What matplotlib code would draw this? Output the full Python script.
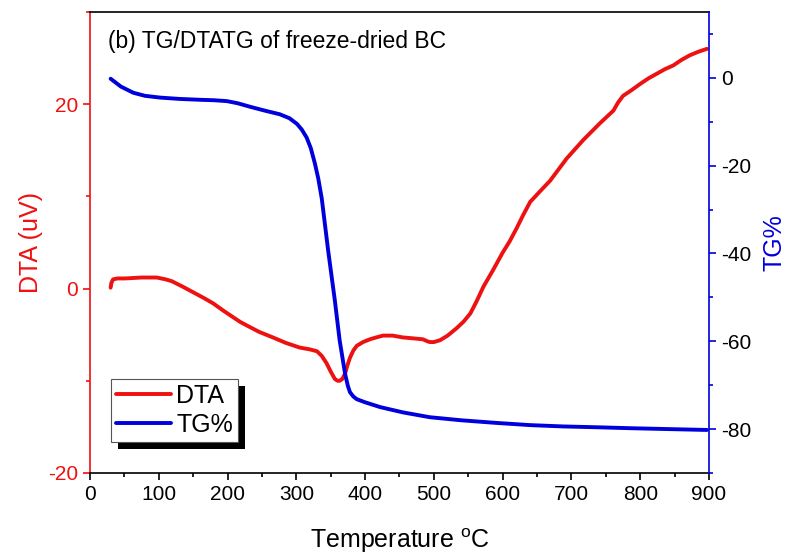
# TG / DTA curves of freeze-dried BC

import numpy as np
import matplotlib.pyplot as plt
import matplotlib.patheffects as pe
from matplotlib.ticker import MultipleLocator

plt.rcParams['font.family'] = ['Liberation Sans', 'DejaVu Sans']
plt.rcParams['mathtext.fontset'] = 'custom'
plt.rcParams['mathtext.rm'] = 'Liberation Sans'
plt.rcParams['axes.unicode_minus'] = False

# ---- DTA (uV) vs temperature ----
T_dta = [30, 31, 33.6, 40, 51, 75, 97, 110, 119, 135, 150, 165, 179, 194, 208, 218, 228,
         246, 266, 285, 305, 320, 330, 337, 344, 350, 356, 360, 363, 367, 371, 374, 378,
         383, 388, 397, 407, 416, 426, 440, 455, 470, 484, 490, 494, 500, 509, 520, 533,
         543, 553, 562, 572, 586, 600, 610, 620, 630, 640, 655, 669, 681, 693, 705, 717,
         729, 741, 751, 761, 768, 775, 787, 800, 812, 824, 836, 848, 860, 872, 885, 897]
dta = [0.1, 0.6, 1.0, 1.1, 1.1, 1.2, 1.2, 1.0, 0.8, 0.2, -0.4, -1.0, -1.6, -2.4, -3.1, -3.6, -4.0,
       -4.7, -5.3, -5.9, -6.4, -6.6, -6.8, -7.3, -8.1, -9.0, -9.8, -10.0, -10.0, -9.8, -9.2, -8.4, -7.5,
       -6.7, -6.2, -5.8, -5.5, -5.3, -5.1, -5.1, -5.3, -5.4, -5.5, -5.7, -5.8, -5.8, -5.6, -5.1, -4.3,
       -3.6, -2.7, -1.4, 0.2, 2.0, 3.9, 5.1, 6.5, 8.0, 9.4, 10.6, 11.7, 12.9, 14.1, 15.1, 16.1,
       17.0, 17.9, 18.6, 19.3, 20.2, 20.9, 21.5, 22.2, 22.8, 23.3, 23.8, 24.2, 24.8, 25.3, 25.7, 26.0]

# ---- TG (%) vs temperature ----
T_tg = [30, 45, 63, 80, 102, 130, 160, 180, 199, 215, 233, 255, 276, 290, 301, 308, 315,
        321, 327, 332, 337, 346, 356, 363, 371, 375, 378, 383, 388, 400, 422, 455, 494,
        540, 591, 640, 688, 740, 785, 840, 897]
tg = [-0.2, -2.0, -3.4, -4.1, -4.5, -4.8, -5.0, -5.1, -5.3, -5.8, -6.6, -7.5, -8.3, -9.2, -10.5, -11.8, -13.6,
      -16.0, -19.5, -23.0, -27.5, -39.0, -50.7, -59.8, -67.5, -70.2, -71.6, -72.6, -73.2, -73.9, -75.0, -76.2, -77.3,
      -78.0, -78.6, -79.1, -79.4, -79.6, -79.8, -80.0, -80.2]

red = '#ee1111'
blue = '#0000dd'

fig = plt.figure(figsize=(7.95, 5.6), dpi=100)
ax = fig.add_axes([0.1132, 0.1554, 0.7786, 0.8232])
ax2 = ax.twinx()

l1, = ax.plot(T_dta, dta, color=red, linewidth=2.8, label='DTA',
              solid_capstyle='round', solid_joinstyle='round')
l2, = ax2.plot(T_tg, tg, color=blue, linewidth=2.8, label='TG%',
               solid_capstyle='round', solid_joinstyle='round')

ax.set_xlim(0, 900)
ax.set_ylim(-20, 30)
ax2.set_ylim(-90, 15)

ax.xaxis.set_major_locator(MultipleLocator(100))
ax.xaxis.set_minor_locator(MultipleLocator(50))
ax.yaxis.set_major_locator(MultipleLocator(20))
ax.yaxis.set_minor_locator(MultipleLocator(10))
ax2.yaxis.set_major_locator(MultipleLocator(20))
ax2.yaxis.set_minor_locator(MultipleLocator(10))

# spines
ax.spines['right'].set_visible(False)
ax2.spines['left'].set_visible(False)
ax2.spines['top'].set_visible(False)
ax2.spines['bottom'].set_visible(False)
ax.spines['left'].set_color(red)
ax2.spines['right'].set_color(blue)
for s in ['left', 'top', 'bottom']:
    ax.spines[s].set_linewidth(1.2)
ax2.spines['right'].set_linewidth(1.2)

ax.tick_params(axis='x', which='both', direction='out', top=False, labelsize=15, colors='black')
ax.tick_params(axis='x', which='major', length=5, width=1.2)
ax.tick_params(axis='x', which='minor', length=3, width=1.2)
ax.tick_params(axis='y', which='both', direction='out', colors=red, labelsize=15)
ax.tick_params(axis='y', which='major', length=5, width=1.2)
ax.tick_params(axis='y', which='minor', length=3, width=1.2)
ax2.tick_params(axis='y', which='both', direction='out', color=blue, labelcolor='black', labelsize=15)
ax2.tick_params(axis='y', which='major', length=5, width=1.2)
ax2.tick_params(axis='y', which='minor', length=3, width=1.2)

ax.set_xlabel('Temperature $^{\\mathrm{o}}$C', fontsize=18, labelpad=16)
ax.set_ylabel('DTA (uV)', fontsize=18, color=red, labelpad=4)
ax2.set_ylabel('TG%', fontsize=18, color=blue, labelpad=8)

ax.text(0.029, 0.922, '(b) TG/DTATG of freeze-dried BC', transform=ax.transAxes,
        fontsize=16.5, va='baseline', ha='left')

leg = ax2.legend([l1, l2], ['DTA', 'TG%'], loc='lower left', bbox_to_anchor=(0.034, 0.067),
                 borderaxespad=0, fontsize=18, fancybox=False, framealpha=1,
                 handlelength=2.2, handletextpad=0.2, borderpad=0.2, labelspacing=0.2)
frame = leg.get_frame()
frame.set_edgecolor('#555555')
frame.set_linewidth(0.8)
frame.set_path_effects([pe.SimplePatchShadow(offset=(5, -5), shadow_rgbFace='black', alpha=1),
                        pe.Normal()])

fig.savefig('out.png', dpi=100)
